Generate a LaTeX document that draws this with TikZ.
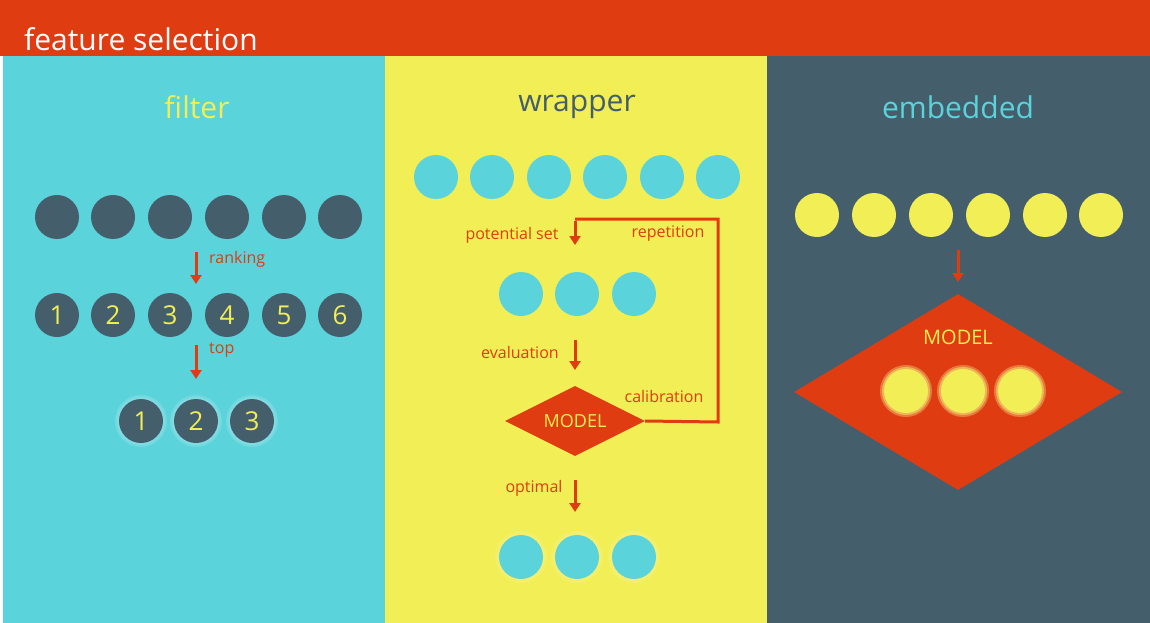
\documentclass[tikz,border=0pt]{standalone}
\usepackage{fontspec}
\setmainfont{Open Sans}
\usetikzlibrary{arrows.meta,shapes.geometric}
\definecolor{rd}{HTML}{E03C12}
\definecolor{cy}{HTML}{5BD3DB}
\definecolor{ye}{HTML}{F2EE55}
\definecolor{dk}{HTML}{455E6C}
\tikzset{
 dot/.style={circle,minimum size=44pt,inner sep=0pt,fill=#1,font=\fontsize{26}{26}\selectfont},
 glow/.style={circle,minimum size=44pt,inner sep=0pt,fill=#1,font=\fontsize{26}{26}\selectfont,
   preaction={draw=ye!70!white,line width=8pt,opacity=0.35},
   preaction={draw=ye!80!white,line width=4pt,opacity=0.5}},
 glowc/.style={circle,minimum size=44pt,inner sep=0pt,fill=#1,font=\fontsize{26}{26}\selectfont,
   preaction={draw=cy!60!white,line width=8pt,opacity=0.35},
   preaction={draw=cy!70!white,line width=4pt,opacity=0.5}},
 arr/.style={rd,line width=3pt,-{Triangle[width=11pt,length=9pt]}},
 lbl/.style={text=rd,font=\fontsize{16}{16}\selectfont,inner sep=0pt},
 title/.style={font=\fontsize{30}{30}\selectfont,inner sep=0pt},
}
\begin{document}
\begin{tikzpicture}[x=1pt,y=-1pt]
\useasboundingbox (0,0) rectangle (1150,623);
\fill[white] (0,0) rectangle (1150,623);
\fill[rd] (0,0) rectangle (1150,56);
\fill[cy] (3,56) rectangle (385,623);
\fill[ye] (385,56) rectangle (767,623);
\fill[dk] (767,56) rectangle (1150,623);
\node[title,text=white,anchor=west] (hdr) at (24,39) {feature selection};
\node[title,text=ye] (t1) at (197,107) {filter};
\node[title,text=dk] (t2) at (577,107) {wrapper};
\node[title,text=cy] (t3) at (958,107) {embedded};
% filter
\foreach \x [count=\i] in {57,113,170,227,284,340} {
 \node[dot=dk] (fa\i) at (\x,217) {};
 \node[dot=dk,text=ye] (fb\i) at (\x,315) {\i};
}
\coordinate (fr1) at (196,252); \coordinate (fr2) at (196,284);
\draw[arr] (fr1) -- (fr2);
\node[lbl,anchor=west] (rank) at (209,259) {ranking};
\coordinate (ft1) at (196,345); \coordinate (ft2) at (196,379);
\draw[arr] (ft1) -- (ft2);
\node[lbl,anchor=west] (top) at (209,350) {top};
\foreach \x [count=\i] in {141,196,252} \node[glowc=dk,text=ye] (fc\i) at (\x,421) {\i};
% wrapper
\foreach \x [count=\i] in {436,492,549,605,662,718} \node[dot=cy] (wa\i) at (\x,177) {};
\foreach \x [count=\i] in {521,577,634} {
 \node[dot=cy] (wb\i) at (\x,294) {};
 \node[glow=cy] (wc\i) at (\x,557) {};
}
\node[diamond,fill=rd,aspect=2,minimum width=140pt,minimum height=70pt,inner sep=0pt,text=ye,font=\fontsize{18}{18}\selectfont] (m1) at (575,421) {MODEL};
\coordinate (w1) at (718,219); \coordinate (w2) at (718,422); \coordinate (w0) at (575,219);
\coordinate (w3) at (575,245);
\draw[rd,line width=3pt] (m1.east) -- (w2) -- (w1) -- (w0);
\draw[arr] ([yshift=-1.5pt]w0) -- (w3);
\node[lbl] (ps) at (512,235) {potential set};
\node[lbl] (rep) at (668,234) {repetition};
\coordinate (e1) at (575,340); \coordinate (e2) at (575,370);
\draw[arr] (e1) -- (e2);
\node[lbl] (ev) at (520,352) {evaluation};
\node[lbl] (cal) at (664,396) {calibration};
\coordinate (o1) at (575,480); \coordinate (o2) at (575,512);
\draw[arr] (o1) -- (o2);
\node[lbl] (op) at (534,488) {optimal};
% embedded
\foreach \x [count=\i] in {817,874,931,988,1045,1101} \node[dot=ye] (ea\i) at (\x,215) {};
\coordinate (ea) at (958,250); \coordinate (eb) at (958,282);
\draw[arr] (ea) -- (eb);
\node[diamond,fill=rd,aspect=1.67,minimum width=328pt,minimum height=196pt,inner sep=0pt] (m2) at (958,392) {};
\node[text=ye,font=\fontsize{20}{20}\selectfont,inner sep=0pt] (m2t) at (958,337) {MODEL};
\foreach \x [count=\i] in {906,963,1020} \node[glow=ye] (ec\i) at (\x,391) {};
\end{tikzpicture}
\end{document}
